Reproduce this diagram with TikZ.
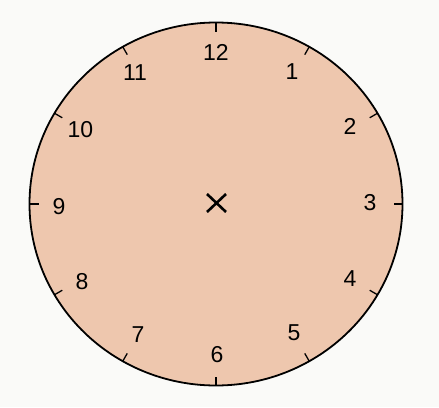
\documentclass[tikz,border=0pt]{standalone}
\usepackage{fontspec}
\setmainfont{Liberation Sans}

\definecolor{dialfill}{RGB}{238,199,174}
\definecolor{paper}{RGB}{250,250,248}

\begin{document}
\begin{tikzpicture}[
    x=1pt, y=-1pt,
    dial/.style={draw=black, line width=1.8pt, fill=dialfill},
    hourtick/.style={draw=black, line width=1.3pt},
    numeral/.style={inner sep=0pt, font=\fontsize{23}{23}\selectfont},
    cross/.style={draw=black, line width=2.6pt}
]

\fill [paper] (0,0) rectangle (439,407);
\useasboundingbox (0,0) rectangle (439,407);

\coordinate (c) at (216,204);
\draw [dial] (c) ellipse [x radius=186.5, y radius=181.5];

% hour ticks
\foreach \h in {1,...,12} {
    \coordinate (out\h) at ([shift={(c)}] -90+30*\h : 186.5 and 181.5);
    \coordinate (in\h) at ([shift={(c)}] -90+30*\h : 177.5 and 172.5);
    \draw [hourtick] (out\h) -- (in\h);
}

% numbers
\foreach \h/\px/\py in {12/216/52, 1/292/72, 2/350/126, 3/370/203, 4/350/279, 5/294/333,
                        6/217/355, 7/138/335, 8/82/282, 9/59/207, 10/80.5/130, 11/135/73}
    \node [numeral] (num\h) at (\px,\py) {\h};

% centre mark
\coordinate (x1) at (207,194);
\coordinate (x2) at (226,212);
\coordinate (x3) at (226,194);
\coordinate (x4) at (207,212);
\draw [cross] (x1) -- (x2);
\draw [cross] (x3) -- (x4);

\end{tikzpicture}
\end{document}
